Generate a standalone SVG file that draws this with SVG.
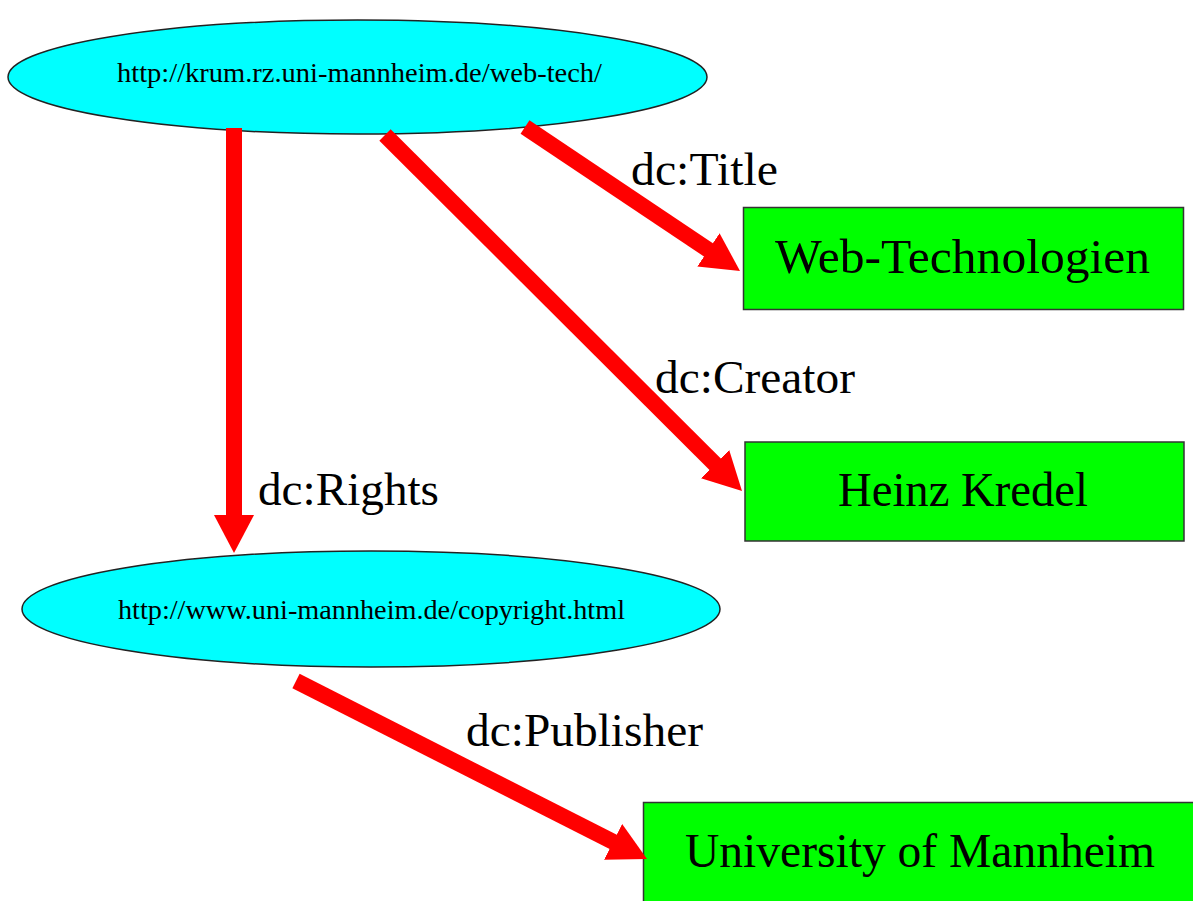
<svg xmlns="http://www.w3.org/2000/svg" width="1193" height="901" viewBox="0 0 1193 901">
<style>
.res{fill:#00ffff;stroke:#222;stroke-width:1.5}
.lit{fill:#00ff00;stroke:#333;stroke-width:1.5}
.edge{stroke:#ff0000;stroke-width:16;fill:none}
text{font-family:"Liberation Serif","Times New Roman",serif;fill:#000}
.url{font-size:27px}
.big{font-size:48px}
.lbl{font-size:46px}
</style>
<defs>
<marker id="ah" markerUnits="userSpaceOnUse" viewBox="0 0 38 40" markerWidth="38" markerHeight="40" refX="4" refY="20" orient="auto">
<polygon points="0,0 38,20 0,40" fill="#ff0000"/>
</marker>
</defs>
<rect width="1193" height="901" fill="#fff"/>
<g id="n1">
<ellipse class="res" cx="357.5" cy="77" rx="349.5" ry="57"/>
<text class="url" x="117" y="82" textLength="485" lengthAdjust="spacingAndGlyphs">http://krum.rz.uni-mannheim.de/web-tech/</text>
</g>
<g id="n2">
<ellipse class="res" cx="371" cy="609" rx="349" ry="58"/>
<text class="url" x="118" y="619" textLength="507" lengthAdjust="spacingAndGlyphs">http://www.uni-mannheim.de/copyright.html</text>
</g>
<g id="n3">
<rect class="lit" x="743.5" y="207.5" width="440" height="102"/>
<text class="big" x="775" y="273" textLength="375" lengthAdjust="spacingAndGlyphs">Web-Technologien</text>
</g>
<g id="n4">
<rect class="lit" x="745" y="442" width="439" height="99"/>
<text class="big" x="838" y="506" textLength="250" lengthAdjust="spacingAndGlyphs">Heinz Kredel</text>
</g>
<g id="n5">
<rect class="lit" x="643.5" y="802.5" width="570" height="110"/>
<text class="big" x="685" y="867" textLength="470" lengthAdjust="spacingAndGlyphs">University of Mannheim</text>
</g>
<g id="edges">
<line class="edge" x1="234" y1="128" x2="234" y2="519" marker-end="url(#ah)"/>
<line class="edge" x1="525" y1="127" x2="711.75" y2="252.08" marker-end="url(#ah)"/>
<line class="edge" x1="385" y1="135" x2="717.93" y2="466.99" marker-end="url(#ah)"/>
<line class="edge" x1="296" y1="681" x2="616.68" y2="843.63" marker-end="url(#ah)"/>
<text class="lbl" x="631" y="185" textLength="147" lengthAdjust="spacingAndGlyphs">dc:Title</text>
<text class="lbl" x="655" y="393" textLength="200" lengthAdjust="spacingAndGlyphs">dc:Creator</text>
<text class="lbl" x="258" y="505" textLength="181" lengthAdjust="spacingAndGlyphs">dc:Rights</text>
<text class="lbl" x="466" y="746" textLength="237" lengthAdjust="spacingAndGlyphs">dc:Publisher</text>
</g>
</svg>
